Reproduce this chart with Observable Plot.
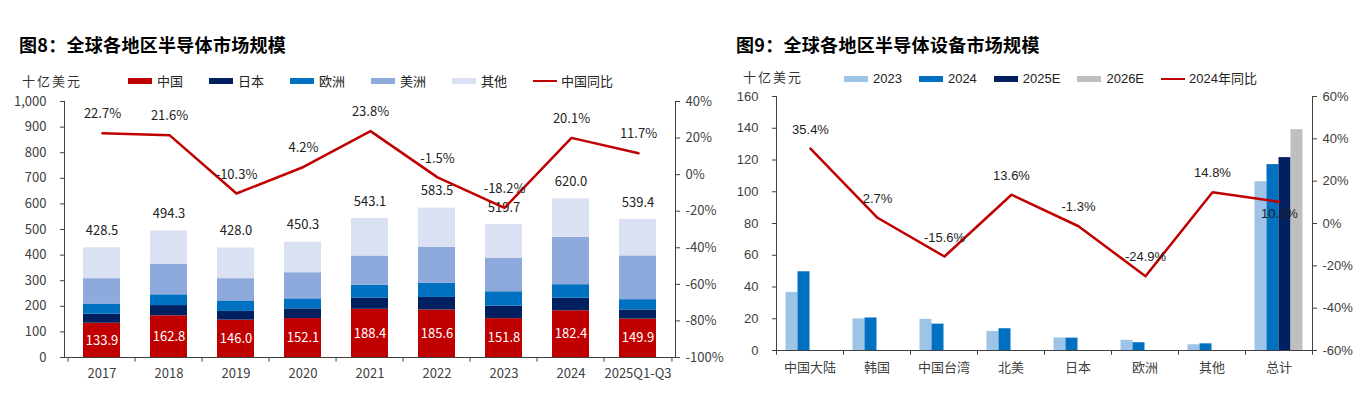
<!DOCTYPE html>
<html><head><meta charset="utf-8">
<script src="https://cdn.jsdelivr.net/npm/d3@7"></script>
<script src="https://cdn.jsdelivr.net/npm/@observablehq/plot@0.6"></script>
<style>
body{margin:0;background:#fff;font-family:"Noto Sans CJK SC",sans-serif;}
#root{position:relative;width:1369px;height:395px;overflow:hidden;background:#fff;}
.abs{position:absolute;}
.title{font-size:18px;font-weight:700;color:#000;white-space:nowrap;line-height:24px;letter-spacing:0.3px;}
.unit{font-size:13px;color:#333;line-height:18px;letter-spacing:2px;}
.leg{font-size:13px;color:#222;display:flex;align-items:center;white-space:nowrap;line-height:18px;}
.item{display:flex;align-items:center;}
.sw{display:inline-block;width:24px;height:6px;margin-right:5px;}
.ln{display:inline-block;width:24px;height:2.5px;margin-right:4px;}
svg.abs{overflow:visible;}
</style></head><body><div id="root"></div>
<script>
// ---------- Chart 1 data ----------
const years = ["2017","2018","2019","2020","2021","2022","2023","2024","2025Q1-Q3"];
const china    = [133.9, 162.8, 146.0, 152.1, 188.4, 185.6, 151.8, 182.4, 149.9];
const japan    = [35, 40, 34, 38, 44, 49, 49, 49, 36];
const europe   = [40, 42, 41, 39, 50, 55, 56, 53, 40];
const americas = [99, 119, 87, 102, 114, 141, 130, 185, 171];
const others   = [120.6, 130.5, 120.0, 119.2, 146.7, 152.9, 132.9, 150.6, 142.5];
const totals   = [428.5, 494.3, 428.0, 450.3, 543.1, 583.5, 519.7, 620.0, 539.4];
const chinaYoY = [22.7, 21.6, -10.3, 4.2, 23.8, -1.5, -18.2, 20.1, 11.7];
const seriesNames1 = ["中国","日本","欧洲","美洲","其他"];
const seriesColors1 = ["#C00000","#002060","#0070C0","#8EA9DB","#D9E1F2"];
const lineName1 = "中国同比";
const yTicks1 = [0,100,200,300,400,500,600,700,800,900,1000];
const y2Ticks1 = [40,20,0,-20,-40,-60,-80,-100];

// ---------- Chart 2 data ----------
const regions = ["中国大陆","韩国","中国台湾","北美","日本","欧洲","其他","总计"];
const eq2023  = [36.6, 19.9, 19.6, 12.0, 7.9, 6.4, 3.6, 106.3];
const eq2024  = [49.6, 20.5, 16.6, 13.7, 7.8, 4.9, 4.2, 117.1];
const eq2025E = [null, null, null, null, null, null, null, 121.5];
const eq2026E = [null, null, null, null, null, null, null, 139.1];
const eqYoY   = [35.4, 2.7, -15.6, 13.6, -1.3, -24.9, 14.8, 10.2];
const yearNames2 = ["2023","2024","2025E","2026E"];
const yearColors2 = ["#9DC3E6","#0070C0","#002060","#BFBFBF"];
const lineName2 = "2024年同比";
const yTicks2 = [0,20,40,60,80,100,120,140,160];
const y2Ticks2 = [60,40,20,0,-20,-40,-60];

const root = document.getElementById("root");
function add(el, left, top){ el.classList.add("abs"); el.style.left = left+"px"; el.style.top = top+"px"; root.appendChild(el); return el; }
function div(cls, html){ const d = document.createElement("div"); d.className = cls; d.innerHTML = html; return d; }
function legend(names, colors, lineName, lineColor, gap, font){
  const d = div("leg", "");
  d.style.gap = gap+"px";
  if (font) d.style.fontFamily = font;
  names.forEach((n,i)=>{ const it = div("item", `<span class="sw" style="background:${colors[i]}"></span><span>${n}</span>`); d.appendChild(it); });
  d.appendChild(div("item", `<span class="ln" style="background:${lineColor}"></span><span>${lineName}</span>`));
  return d;
}
const RED = "#C00000";
const AX = "#404040";

// ---------- Chart 1 ----------
add(div("title","图8：全球各地区半导体市场规模"), 19, 32);
add(div("unit","十亿美元"), 22, 72);
add(legend(seriesNames1, seriesColors1, lineName1, RED, 26, null), 128, 72);

const W1 = 725, H1 = 300, ml1 = 64, mr1 = 50, mt1 = 11, mb1 = 33;
const step1 = (W1 - ml1 - mr1) / years.length;
const rows1 = years.flatMap((yr,i) => [china,japan,europe,americas,others].map((arr,k)=>({year: yr, series: seriesNames1[k], value: arr[i]})));
const font1 = "Noto Sans CJK SC";
const base1 = Plot.plot({
  width: W1, height: H1, marginLeft: ml1, marginRight: mr1, marginTop: mt1, marginBottom: mb1,
  style: {background: "transparent", fontFamily: font1, fontSize: "13px", color: AX},
  x: {domain: years, paddingInner: 0.45, paddingOuter: 0.225, tickSize: 0, tickPadding: 11, line: true, label: null},
  y: {domain: [0, 1000], ticks: yTicks1, tickFormat: d3.format(","), tickSize: 4, tickPadding: 14, line: true, label: null},
  color: {domain: seriesNames1, range: seriesColors1},
  marks: [
    Plot.barY(rows1, {x: "year", y: "value", fill: "series"}),
    Plot.text(years, {x: d=>d, y: (d,i)=>china[i]/2, text: (d,i)=>china[i].toFixed(1), fill: "white", fontSize: 13}),
    Plot.text(years, {x: d=>d, y: (d,i)=>totals[i], text: (d,i)=>totals[i].toFixed(1), dy: -17, fill: "#222", fontSize: 13}),
    Plot.ruleX(years, {x: d=>d, y1: 0, y2: -18, dx: -step1/2, stroke: AX}),
    Plot.ruleX(years.slice(-1), {x: d=>d, y1: 0, y2: -18, dx: step1/2, stroke: AX})
  ]
});
add(base1, 0, 90);
const over1 = Plot.plot({
  width: W1, height: H1, marginLeft: ml1, marginRight: mr1, marginTop: mt1, marginBottom: mb1,
  style: {background: "transparent", fontFamily: font1, fontSize: "13px", color: AX},
  x: {type: "point", domain: years, padding: 0.5, axis: null},
  y: {domain: [-100, 40], axis: "right", ticks: y2Ticks1, tickFormat: d=>d+"%", tickSize: 4, tickPadding: 6, line: true, label: null},
  marks: [
    Plot.line(years, {x: d=>d, y: (d,i)=>chinaYoY[i], stroke: RED, strokeWidth: 2.5}),
    Plot.text(years, {x: d=>d, y: (d,i)=>chinaYoY[i], text: (d,i)=>chinaYoY[i].toFixed(1)+"%", dy: -19, fill: "#222", fontSize: 13})
  ]
});
add(over1, 0, 90);

// ---------- Chart 2 ----------
add(div("title","图9：全球各地区半导体设备市场规模"), 736, 32);
add(div("unit","十亿美元"), 743, 68);
add(legend(yearNames2, yearColors2, lineName2, RED, 17, "Liberation Sans, Noto Sans CJK SC"), 844, 70);

const W2 = 669, H2 = 300, ml2 = 76, mr2 = 57, mt2 = 6, mb2 = 40;
const step2 = (W2 - ml2 - mr2) / regions.length;
const barW2 = 12;
const groupOff = (step2 - barW2 * yearNames2.length) / 2;
const yearArrays2 = [eq2023, eq2024, eq2025E, eq2026E];
const font2 = "Liberation Sans, Noto Sans CJK SC";
const barMarks2 = yearArrays2.map((arr,k) => Plot.barY(
  regions.map((r,i)=>({region: r, value: arr[i]})).filter(d => d.value != null),
  {x: "region", y: "value", fill: yearColors2[k], insetLeft: groupOff + k*barW2, insetRight: step2 - groupOff - (k+1)*barW2}
));
const base2 = Plot.plot({
  width: W2, height: H2, marginLeft: ml2, marginRight: mr2, marginTop: mt2, marginBottom: mb2,
  style: {background: "transparent", fontFamily: font2, fontSize: "13px", color: AX},
  x: {domain: regions, padding: 0, tickSize: 0, tickPadding: 12, line: true, label: null},
  y: {domain: [0, 160], ticks: yTicks2, tickSize: 4, tickPadding: 14, line: true, label: null},
  marks: [
    ...barMarks2,
    Plot.ruleX(regions, {x: d=>d, y1: 0, y2: -3, dx: -step2/2, stroke: AX}),
    Plot.ruleX(regions.slice(-1), {x: d=>d, y1: 0, y2: -3, dx: step2/2, stroke: AX})
  ]
});
add(base2, 700, 90);
const last = regions.length - 1;
const over2 = Plot.plot({
  width: W2, height: H2, marginLeft: ml2, marginRight: mr2, marginTop: mt2, marginBottom: mb2,
  style: {background: "transparent", fontFamily: font2, fontSize: "13px", color: AX},
  x: {type: "point", domain: regions, padding: 0.5, axis: null},
  y: {domain: [-60, 60], axis: "right", ticks: y2Ticks2, tickFormat: d=>d+"%", tickSize: 4, tickPadding: 6, line: true, label: null},
  marks: [
    Plot.line(regions, {x: d=>d, y: (d,i)=>eqYoY[i], stroke: RED, strokeWidth: 2.5}),
    Plot.text(regions.slice(0, last), {x: d=>d, y: (d,i)=>eqYoY[i], text: (d,i)=>eqYoY[i].toFixed(1)+"%", dy: -19, fill: "#222", fontSize: 13}),
    Plot.text(regions.slice(last), {x: d=>d, y: ()=>eqYoY[last], text: ()=>eqYoY[last].toFixed(1)+"%", dy: 12, fill: "#222", fontSize: 13})
  ]
});
add(over2, 700, 90);
</script></body></html>
